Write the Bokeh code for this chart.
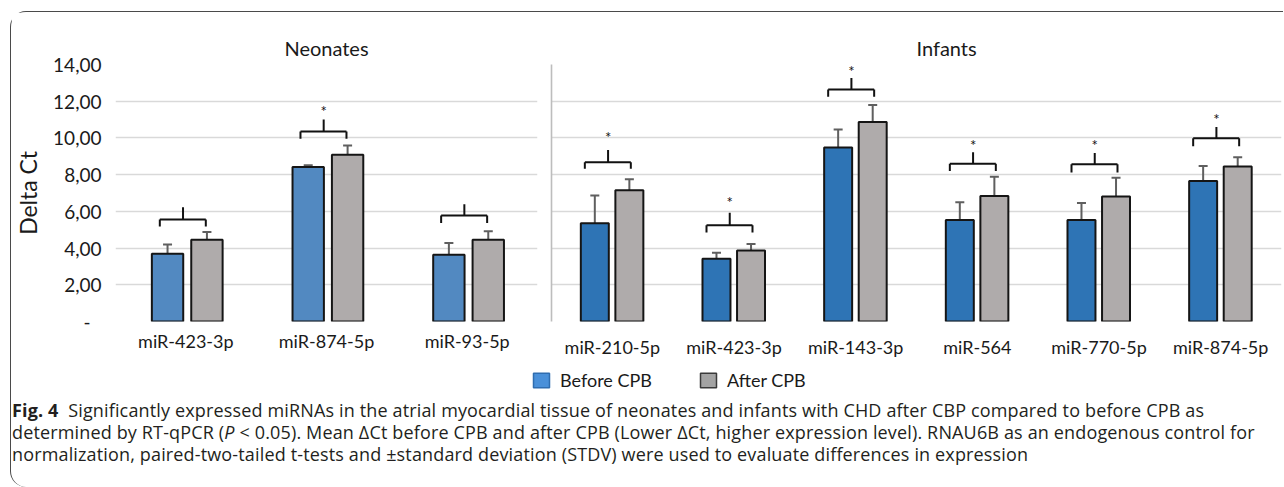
from bokeh.plotting import figure
from bokeh.models import (FactorRange, Range1d, FixedTicker, Whisker, ColumnDataSource,
                          TeeHead, Legend, LegendItem, Div)
from bokeh.layouts import column, row
from bokeh.transform import dodge
from bokeh.core.properties import value
from bokeh.embed import file_html
from bokeh.resources import INLINE

# ---------------- data ----------------
y_ticks = [0, 2, 4, 6, 8, 10, 12, 14]
y_tick_labels = ["-\u2007", "2,00", "4,00", "6,00", "8,00", "10,00", "12,00", "14,00"]

neo_cats = ["miR-423-3p", "miR-874-5p", "miR-93-5p"]
neo_before = [3.69, 8.42, 3.64]
neo_before_hi = [4.19, 8.51, 4.28]
neo_before_lo = [2.74, 7.40, 2.63]
neo_after = [4.46, 9.09, 4.46]
neo_after_hi = [4.88, 9.59, 4.91]
neo_after_lo = [3.44, 8.06, 3.51]
neo_brk_tip = [5.18, 9.95, 5.36]
neo_brk_bar = [5.56, 10.35, 5.78]
neo_brk_stem = [6.23, 11.0, 6.39]
neo_star = ["", "*", ""]
neo_star_y = [6.7, 11.45, 6.8]

inf_cats = ["miR-210-5p", "miR-423-3p", "miR-143-3p", "miR-564", "miR-770-5p", "miR-874-5p"]
inf_before = [5.35, 3.42, 9.48, 5.53, 5.53, 7.65]
inf_before_hi = [6.86, 3.74, 10.46, 6.49, 6.45, 8.47]
inf_before_lo = [4.35, 2.39, 8.47, 4.49, 4.49, 6.60]
inf_after = [7.15, 3.87, 10.87, 6.84, 6.81, 8.45]
inf_after_hi = [7.75, 4.22, 11.80, 7.88, 7.83, 8.95]
inf_after_lo = [6.10, 2.87, 9.84, 5.83, 5.78, 7.43]
inf_brk_tip = [8.32, 4.85, 12.25, 8.20, 8.11, 9.54]
inf_brk_bar = [8.68, 5.24, 12.64, 8.59, 8.56, 9.98]
inf_brk_stem = [9.34, 5.92, 13.26, 9.22, 9.18, 10.59]
inf_star = ["*", "*", "*", "*", "*", "*"]
inf_star_y = [10.05, 6.50, 13.64, 9.63, 9.61, 11.05]

series_names = ["Before CPB", "After CPB"]
legend_fill = ["#4A90D9", "#A3A3A3"]
legend_line = ["#2F6DB0", "#3A3A3A"]

caption_html = (
    '<b>Fig. 4</b>&nbsp; Significantly expressed miRNAs in the atrial '
    'myocardial tissue of neonates and infants with CHD after CBP compared to before CPB as<br>'
    'determined by RT-qPCR (<i>P</i> &lt; 0.05). Mean \u0394Ct before CPB and after CPB (Lower \u0394Ct, '
    'higher expression level). RNAU6B as an endogenous control for<br>'
    'normalization, paired-two-tailed t-tests and \u00b1standard deviation (STDV) were used to evaluate '
    'differences in expression'
)

# ---------------- style ----------------
FONT = "Lato"
GRAY = "#AFABAB"
ERR = "#5F5F5F"
EDGE = "#151515"


def panel(cats, before, bhi, blo, after, ahi, alo, tip, bar, stem, star, star_y, *,
          title, blue, width, mbl, mbr, left_labels, boff, aoff, bw,
          brl, brr, bst, title_align, title_offset, xstand):
    src = ColumnDataSource(dict(cat=cats, before=before, bhi=bhi, blo=blo, after=after,
                                ahi=ahi, alo=alo, tip=tip, bar=bar, stem=stem,
                                star=star, star_y=star_y))
    p = figure(x_range=FactorRange(factors=cats), y_range=Range1d(0, 14),
               width=width, height=348, output_backend="svg", toolbar_location=None,
               min_border_left=mbl, min_border_right=mbr, min_border_top=52,
               min_border_bottom=36, title=title)
    p.x_range.range_padding = 0
    p.title.align = title_align
    p.title.offset = title_offset
    p.title.text_font = FONT
    p.title.text_font_size = "20px"
    p.title.text_font_style = "normal"
    p.title.text_color = "#1a1a1a"
    p.outline_line_color = None
    p.background_fill_color = "white"
    p.border_fill_color = "white"

    p.xgrid.visible = False
    p.ygrid.ticker = FixedTicker(ticks=y_ticks)
    p.ygrid.grid_line_color = "#D9D9D9"
    p.ygrid.grid_line_width = 1.6

    xa = p.xaxis[0]
    xa.axis_line_color = None
    xa.major_tick_line_color = None
    xa.minor_tick_line_color = None
    xa.major_label_text_font = FONT
    xa.major_label_text_font_size = "18px"
    xa.major_label_text_color = "#1a1a1a"
    xa.major_label_standoff = xstand

    ya = p.yaxis[0]
    ya.major_tick_line_color = None
    ya.minor_tick_line_color = None
    if left_labels:
        ya.ticker = FixedTicker(ticks=y_ticks)
        ya.axis_line_color = None
        ya.major_label_overrides = {t: l for t, l in zip(y_ticks, y_tick_labels)}
        ya.major_label_text_font = FONT
        ya.major_label_text_font_size = "19px"
        ya.major_label_text_color = "#1a1a1a"
        ya.major_label_standoff = 8
        ya.axis_label = "Delta Ct"
        ya.axis_label_text_font = FONT
        ya.axis_label_text_font_size = "23px"
        ya.axis_label_text_font_style = "normal"
        ya.axis_label_text_color = "#1a1a1a"
        ya.axis_label_standoff = 8
    else:
        ya.ticker = FixedTicker(ticks=[])
        ya.axis_line_color = "#BDBDBD"
        ya.axis_line_width = 1.6
        ya.major_label_standoff = 0

    xr = p.x_range
    p.vbar(x=dodge("cat", boff, range=xr), top="before", width=bw, source=src,
           fill_color=blue, line_color=EDGE, line_width=2)
    p.vbar(x=dodge("cat", aoff, range=xr), top="after", width=bw, source=src,
           fill_color=GRAY, line_color=EDGE, line_width=2)

    for off, up, lo in ((boff, "bhi", "blo"), (aoff, "ahi", "alo")):
        w = Whisker(source=src, base=dodge("cat", off, range=xr), upper=up, lower=lo,
                    line_color=ERR, line_width=2,
                    upper_head=TeeHead(size=9, line_color=ERR, line_width=2),
                    lower_head=TeeHead(size=9, line_color=ERR, line_width=2))
        p.add_layout(w)

    kw = dict(source=src, line_color="#111111", line_width=2)
    p.segment(x0=dodge("cat", brl, range=xr), y0="tip", x1=dodge("cat", brl, range=xr), y1="bar", **kw)
    p.segment(x0=dodge("cat", brl, range=xr), y0="bar", x1=dodge("cat", brr, range=xr), y1="bar", **kw)
    p.segment(x0=dodge("cat", brr, range=xr), y0="tip", x1=dodge("cat", brr, range=xr), y1="bar", **kw)
    p.segment(x0=dodge("cat", bst, range=xr), y0="bar", x1=dodge("cat", bst, range=xr), y1="stem", **kw)
    p.text(x=dodge("cat", bst, range=xr), y="star_y", text="star", source=src,
           text_align="center", text_baseline="middle", text_font=value(FONT),
           text_font_size="15px", text_color="#111111")
    return p


fig_neo = panel(neo_cats, neo_before, neo_before_hi, neo_before_lo, neo_after, neo_after_hi,
                neo_after_lo, neo_brk_tip, neo_brk_bar, neo_brk_stem, neo_star, neo_star_y,
                title="Neonates", blue="#5289C1", width=533, mbl=96, mbr=7, left_labels=True,
                boff=-0.13, aoff=0.15, bw=0.223, brl=-0.185, brr=0.142, bst=-0.02,
                title_align="center", title_offset=0, xstand=2)

fig_inf = panel(inf_cats, inf_before, inf_before_hi, inf_before_lo, inf_after, inf_after_hi,
                inf_after_lo, inf_brk_tip, inf_brk_bar, inf_brk_stem, inf_star, inf_star_y,
                title="Infants", blue="#2E74B5", width=739, mbl=7, mbr=2, left_labels=False,
                boff=-0.144, aoff=0.14, bw=0.23, brl=-0.226, brr=0.152, bst=-0.035,
                title_align="left", title_offset=365, xstand=8)

# ---------------- legend strip ----------------
fig_bot = figure(width=1272, height=39, x_range=FactorRange(factors=series_names),
                 y_range=Range1d(1, 2), output_backend="svg", toolbar_location=None,
                 x_axis_type=None, y_axis_type=None, min_border=0)
fig_bot.outline_line_color = None
fig_bot.xgrid.visible = False
fig_bot.ygrid.visible = False
leg_src = ColumnDataSource(dict(name=series_names, fill=legend_fill, line=legend_line,
                                top=[float("nan"), float("nan")]))
r = fig_bot.vbar(x="name", top="top", bottom="top", width=0.2, source=leg_src,
                 fill_color="fill", line_color="line", line_width=1.5)
leg = Legend(items=[LegendItem(label=series_names[0], renderers=[r], index=0),
                    LegendItem(label=series_names[1], renderers=[r], index=1)],
             orientation="horizontal", location=(520, 8), padding=0, margin=0,
             spacing=46, glyph_width=20, glyph_height=18, label_height=18,
             label_standoff=9, label_text_font=FONT, label_text_font_size="18px",
             label_text_color="#1a1a1a", border_line_color=None,
             background_fill_alpha=0)
fig_bot.add_layout(leg)

caption = Div(text=caption_html, width=1272, height=88, margin=0,
              styles={"font-family": "'Open Sans'", "font-size": "18px", "line-height": "22px",
                      "letter-spacing": "0.15px", "color": "#231F20", "white-space": "nowrap",
                      "padding-left": "1px"})

layout = column(row(fig_neo, fig_inf), fig_bot, caption, margin=(11, 0, 0, 10),
                styles={"border-top": "1.5px solid #4a4a4a", "border-left": "1.5px solid #4a4a4a",
                        "border-top-left-radius": "16px", "border-bottom-left-radius": "16px"})

open("out.html", "w").write(file_html(layout, INLINE))
